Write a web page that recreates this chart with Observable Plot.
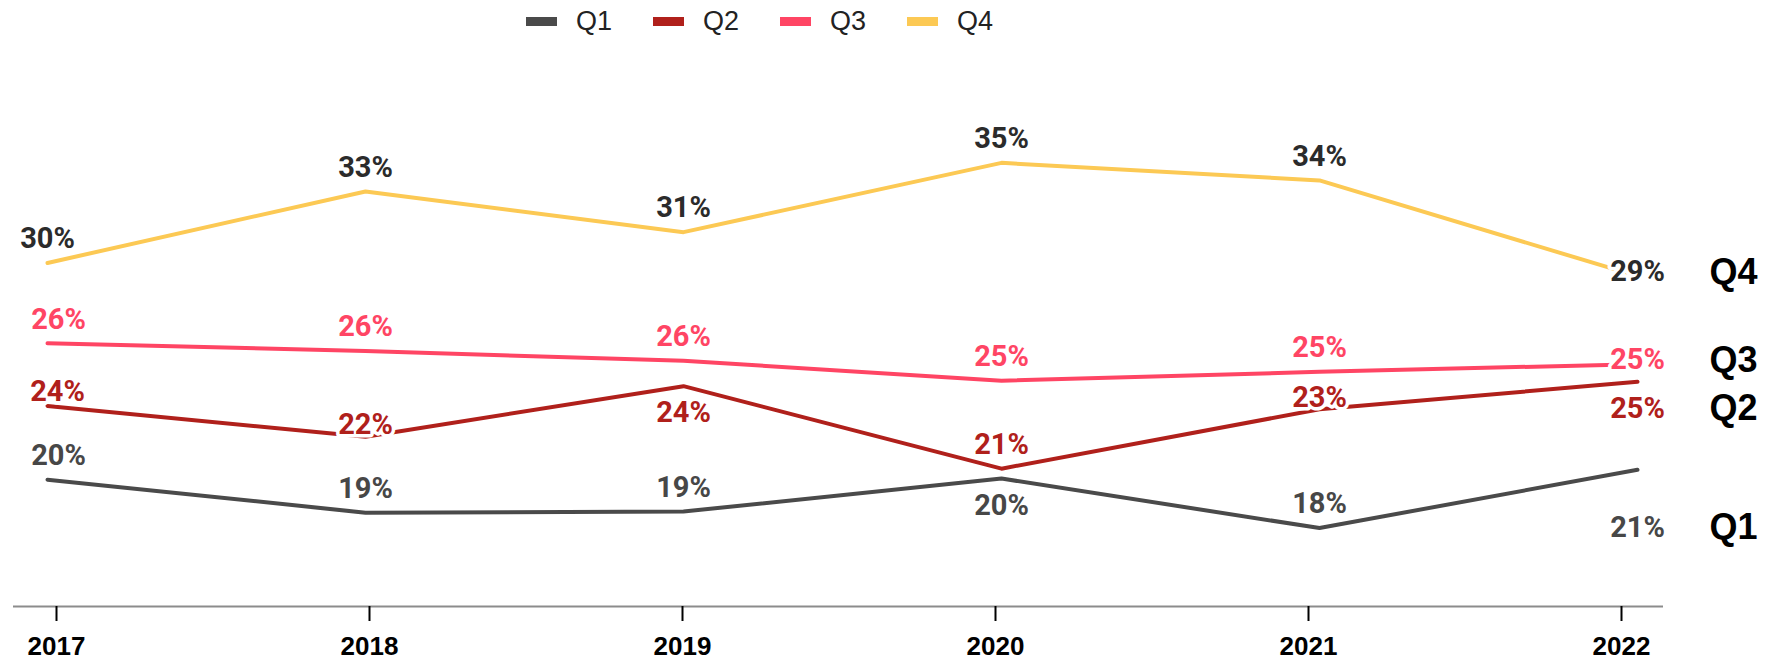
<!DOCTYPE html>
<html>
<head>
<meta charset="utf-8">
<script src="https://cdn.jsdelivr.net/npm/d3@7"></script>
<script src="https://cdn.jsdelivr.net/npm/@observablehq/plot@0.6"></script>
<style>
  html, body { margin: 0; padding: 0; background: #ffffff; }
  #legend { height: 42px; display: flex; align-items: center; padding-left: 526px; box-sizing: border-box;
            font-family: "Liberation Sans", Arial, sans-serif; font-size: 27px; color: #222; }
  .item { display: flex; align-items: center; margin-right: 41px; }
  .sw { width: 31px; height: 9px; margin-right: 19px; }
  #chart { position: relative; width: 1770px; height: 622px; }
  #chart svg { display: block; position: absolute; left: 0; top: 0; }
</style>
</head>
<body>
<div id="legend"></div>
<div id="chart"></div>
<script>
// ---- data ----
const years = ["2017", "2018", "2019", "2020", "2021", "2022"];
const seriesNames = ["Q1", "Q2", "Q3", "Q4"];
const q1 = [20.2, 18.7, 18.75, 20.25, 18.0, 20.65];
const q2 = [23.55, 22.15, 24.45, 20.7, 23.4, 24.65];
const q3 = [26.4, 26.05, 25.6, 24.7, 25.1, 25.45];
const q4 = [30.05, 33.3, 31.45, 34.6, 33.8, 29.45];
// label placement relative to each point
const q1Place = ["aboveR", "above", "above", "below", "above", "far"];
const q2Place = ["nearR", "near", "below", "above", "near", "below"];
const q3Place = ["aboveR", "above", "above", "above", "above", "end"];
const q4Place = ["above", "above", "above", "above", "above", "end"];

// ---- styles ----
const lineColors = ["#4a4a4a", "#b0201b", "#ff4564", "#fcc954"];
const labelColors = ["#474747", "#b0201b", "#ff4564", "#2b2b2b"];
const placeOffset = {
  above: [0, -24], aboveR: [11, -24], below: [0, 27], far: [0, 58],
  near: [0, -12], nearR: [10, -14], end: [0, -4]
};

const values = [q1, q2, q3, q4];
const places = [q1Place, q2Place, q3Place, q4Place];

// legend
const legend = document.getElementById("legend");
seriesNames.forEach((s, i) => {
  const it = document.createElement("div");
  it.className = "item";
  const sw = document.createElement("div");
  sw.className = "sw";
  sw.style.background = lineColors[i];
  const tx = document.createElement("span");
  tx.textContent = s;
  it.appendChild(sw); it.appendChild(tx);
  legend.appendChild(it);
});

const rows = [];
seriesNames.forEach((s, i) => years.forEach((y, j) => rows.push({
  series: s, si: i, year: y, value: values[i][j], place: places[i][j],
  label: Math.round(values[i][j]) + "%"
})));

const yMin = 14.435, yMax = 40.07;
const W = 1770, H = 622, MB = 58;

// axis layer
const axisPlot = Plot.plot({
  width: W, height: H, marginTop: 0, marginBottom: MB, marginLeft: 54, marginRight: 147,
  x: { type: "point", domain: years, padding: 0, axis: null },
  y: { domain: [yMin, yMax], axis: null },
  style: { background: "transparent" },
  marks: [
    Plot.ruleY([yMin], { stroke: "#8c8c8c", strokeWidth: 2, insetLeft: -41, insetRight: -40 }),
    Plot.axisX({
      tickSize: 15, tickPadding: 15, stroke: "#000", strokeWidth: 2,
      fontSize: 26, fontWeight: "bold", fontFamily: "Liberation Sans, Arial, sans-serif",
      fill: "#000", label: null
    })
  ]
});

const marks = [];
seriesNames.forEach((s, i) => {
  marks.push(Plot.line(rows.filter(d => d.si === i), {
    x: "year", y: "value", stroke: lineColors[i], strokeWidth: 4, strokeLinejoin: "round"
  }));
});
seriesNames.forEach((s, i) => {
  Object.keys(placeOffset).forEach(p => {
    const sub = rows.filter(d => d.si === i && d.place === p);
    if (!sub.length) return;
    marks.push(Plot.text(sub, {
      x: "year", y: "value", text: "label", dx: placeOffset[p][0], dy: placeOffset[p][1],
      fill: labelColors[i], stroke: "#fff", strokeWidth: 7, strokeLinejoin: "round",
      fontFamily: "Roboto, sans-serif", fontWeight: "bold", fontSize: 29
    }));
  });
});
// series names at right end
seriesNames.forEach((s, i) => {
  const last = rows.filter(d => d.si === i && d.year === years[years.length - 1]);
  marks.push(Plot.text(last, {
    x: "year", y: "value", text: "series", dx: 72, dy: placeOffset[last[0].place][1],
    textAnchor: "start", fill: "#000", fontFamily: "Liberation Sans, Arial, sans-serif",
    fontWeight: "bold", fontSize: 36
  }));
});

const chart = Plot.plot({
  width: W, height: H,
  marginTop: 0, marginBottom: MB, marginLeft: 45, marginRight: 132,
  x: { type: "point", domain: years, padding: 0, axis: null },
  y: { domain: [yMin, yMax], axis: null },
  style: { background: "transparent", overflow: "visible" },
  marks
});
const holder = document.getElementById("chart");
holder.appendChild(axisPlot);
holder.appendChild(chart);
</script>
</body>
</html>
